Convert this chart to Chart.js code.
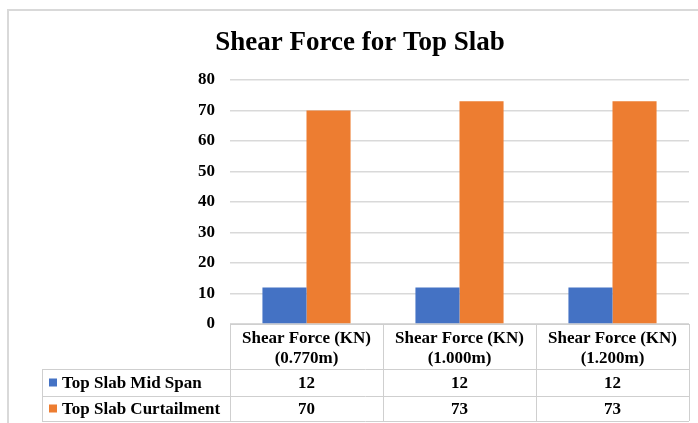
<!DOCTYPE html>
<html lang="en">
<head>
    <meta charset="UTF-8">
    <title>Shear Force for Top Slab</title>
    <script src="https://cdn.jsdelivr.net/npm/chart.js"></script>
    <style>
        body { margin: 0; background: #fff; }
    </style>
</head>
<body>
    <canvas id="barChart" width="698" height="423"></canvas>

    <script>
        // Chart data
        const chartTitle = 'Shear Force for Top Slab';
        const categoryLine1 = ['Shear Force (KN)', 'Shear Force (KN)', 'Shear Force (KN)'];
        const categoryLine2 = ['(0.770m)', '(1.000m)', '(1.200m)'];
        const seriesNames = ['Top Slab Mid Span', 'Top Slab Curtailment'];
        const midSpan = [12, 12, 12];
        const curtailment = [70, 73, 73];
        const seriesColors = ['#4472C4', '#ED7D31'];

        const serif = "'Liberation Serif', 'Times New Roman', serif";
        const lineColor = '#d9d9d9';

        // Draws the frame, title and the data table under the plot
        const tablePlugin = {
            id: 'dataTable',
            afterDraw(chart) {
                const ctx = chart.ctx;
                const area = chart.chartArea;
                const x = chart.scales.x;
                const n = categoryLine1.length;
                const colW = (area.right - area.left) / n;
                const top = area.bottom;
                const row1 = top + 45, row2 = row1 + 27, bottom = row2 + 25;
                const legendLeft = 42;

                ctx.save();
                // outer frame
                ctx.strokeStyle = lineColor;
                ctx.lineWidth = 2;
                ctx.beginPath();
                ctx.moveTo(8, 423);
                ctx.lineTo(8, 10);
                ctx.lineTo(698, 10);
                ctx.stroke();

                // title
                ctx.fillStyle = '#000';
                ctx.font = 'bold 27px ' + serif;
                ctx.textAlign = 'center';
                ctx.textBaseline = 'middle';
                ctx.fillText(chartTitle, 360, 43);

                // table lines
                ctx.strokeStyle = '#cfcfcf';
                ctx.lineWidth = 1;
                ctx.beginPath();
                ctx.moveTo(area.left, top + 0.5); ctx.lineTo(area.right, top + 0.5);
                [row1, row2, bottom].forEach(y => {
                    ctx.moveTo(legendLeft, y + 0.5); ctx.lineTo(area.right, y + 0.5);
                });
                for (let i = 0; i <= n; i++) {
                    const cx = Math.round(area.left + i * colW) + 0.5;
                    ctx.moveTo(cx, top); ctx.lineTo(cx, bottom);
                }
                ctx.moveTo(legendLeft + 0.5, row1); ctx.lineTo(legendLeft + 0.5, bottom);
                ctx.stroke();

                // header text
                ctx.fillStyle = '#000';
                ctx.font = 'bold 17px ' + serif;
                for (let i = 0; i < n; i++) {
                    const cx = x.getPixelForValue(i);
                    ctx.fillText(categoryLine1[i], cx, top + 15);
                    ctx.fillText(categoryLine2[i], cx, top + 35);
                }

                // rows
                const rows = [midSpan, curtailment];
                const rowMid = [(row1 + row2) / 2, (row2 + bottom) / 2];
                rows.forEach((vals, r) => {
                    const y = rowMid[r];
                    ctx.fillStyle = seriesColors[r];
                    ctx.fillRect(49, y - 4, 8, 8);
                    ctx.fillStyle = '#000';
                    ctx.textAlign = 'left';
                    ctx.fillText(seriesNames[r], 62, y + 1);
                    ctx.textAlign = 'center';
                    vals.forEach((v, i) => {
                        ctx.fillText(String(v), x.getPixelForValue(i), y + 1);
                    });
                });
                ctx.restore();
            }
        };

        const ctx = document.getElementById('barChart').getContext('2d');
        const barChart = new Chart(ctx, {
            type: 'bar',
            data: {
                labels: categoryLine1.map((l, i) => l + ' ' + categoryLine2[i]),
                datasets: [
                    {
                        label: seriesNames[0],
                        data: midSpan,
                        backgroundColor: seriesColors[0]
                    },
                    {
                        label: seriesNames[1],
                        data: curtailment,
                        backgroundColor: seriesColors[1]
                    }
                ]
            },
            options: {
                responsive: false,
                animation: false,
                categoryPercentage: 0.576,
                barPercentage: 1,
                layout: {
                    padding: { top: 80, bottom: 99, left: 170, right: 9 }
                },
                plugins: {
                    legend: { display: false },
                    title: { display: false },
                    tooltip: { enabled: false }
                },
                scales: {
                    x: {
                        display: false
                    },
                    y: {
                        min: 0,
                        max: 80,
                        afterFit: s => { s.width = 60; },
                        ticks: {
                            stepSize: 10,
                            padding: 15,
                            color: '#000',
                            font: { family: serif, size: 17, weight: 'bold' }
                        },
                        grid: {
                            color: lineColor,
                            lineWidth: 1.5,
                            drawTicks: false
                        },
                        border: { display: false }
                    }
                }
            },
            plugins: [tablePlugin]
        });
    </script>
</body>
</html>
